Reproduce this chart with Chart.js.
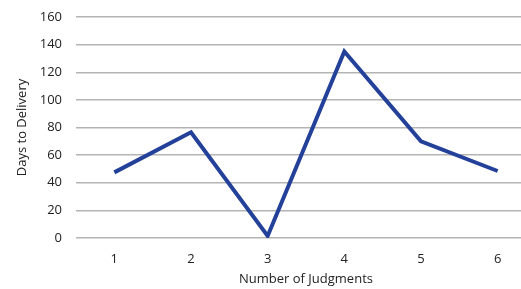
<!DOCTYPE html>
<html>
<head>
<meta charset="utf-8">
<script src="https://cdn.jsdelivr.net/npm/chart.js@4"></script>
<style>
  html, body { margin: 0; padding: 0; background: #fff; overflow: hidden; }
  #wrap { width: 540px; height: 289px; }
</style>
</head>
<body>
<div id="wrap"><canvas id="lineChart"></canvas></div>
<script>
// データ
const judgments = ['1', '2', '3', '4', '5', '6'];
const daysToDelivery = [47.5, 76.5, 1.5, 135, 70, 48.5];
const yTicks = [0, 20, 40, 60, 80, 100, 120, 140, 160];

const fontFamily = '"Open Sans", "Liberation Sans", sans-serif';

let lineCtx = document.getElementById('lineChart');

let lineConfig = {
  type: 'line',
  data: {
    labels: judgments,
    datasets: [{
      label: 'Days to Delivery',
      data: daysToDelivery,
      borderColor: '#24419a',
      borderWidth: 4,
      pointRadius: 0,
      tension: 0,
      fill: false
    }]
  },
  options: {
    responsive: true,
    maintainAspectRatio: false,
    animation: false,
    plugins: {
      legend: { display: false },
      tooltip: { enabled: false }
    },
    layout: {
      padding: { top: 17, right: 4, bottom: 0, left: 14 }
    },
    scales: {
      x: {
        offset: true,
        afterFit: (axis) => { axis.height = 51; },
        grid: { display: false, drawTicks: false },
        border: { display: false },
        ticks: {
          color: '#222',
          font: { family: fontFamily, size: 13 },
          padding: 13
        },
        title: {
          display: true,
          text: 'Number of Judgments',
          color: '#222',
          font: { family: fontFamily, size: 13 },
          padding: { top: 0, bottom: 2 }
        }
      },
      y: {
        min: 0,
        max: 160,
        afterBuildTicks: (axis) => {
          axis.ticks = yTicks.map(v => ({ value: v }));
        },
        afterFit: (axis) => {
          axis.width = 62;
          axis.paddingTop = 0;
          axis.paddingBottom = 0;
        },
        grid: { color: '#b4b4b4', lineWidth: 1.5, drawTicks: false },
        border: { display: false },
        ticks: {
          color: '#222',
          font: { family: fontFamily, size: 13 },
          padding: 14
        },
        title: {
          display: true,
          text: 'Days to Delivery',
          color: '#222',
          font: { family: fontFamily, size: 13 },
          padding: { top: 0, bottom: 4 }
        }
      }
    }
  }
};

let lineChart = new Chart(lineCtx, lineConfig);
</script>
</body>
</html>
